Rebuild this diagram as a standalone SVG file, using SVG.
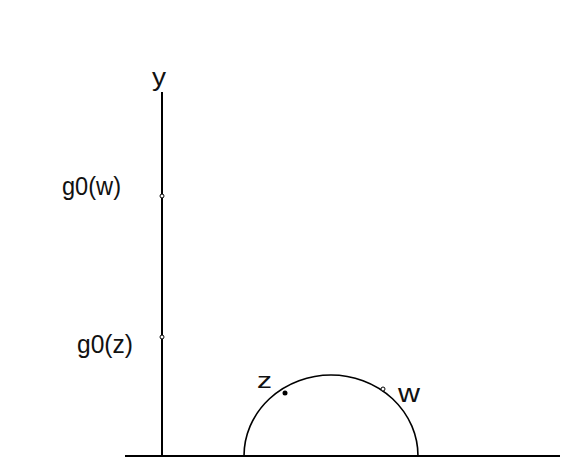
<svg xmlns="http://www.w3.org/2000/svg" width="565" height="465" viewBox="0 0 565 465">
<style>
.ax{stroke:#000;stroke-width:2;fill:none}
.arc{stroke:#000;stroke-width:1.6;fill:none}
.lbl{font-family:"Liberation Sans",Arial,sans-serif;font-size:26px;fill:#111}
.pt{stroke:#000;stroke-width:1;fill:#fff}
</style>
<rect width="565" height="465" fill="#fff"/>
<g id="connectors">
<line class="ax" x1="162" y1="92" x2="162" y2="456"/>
<line class="ax" x1="125" y1="456" x2="560" y2="456"/>
<path class="arc" d="M244,456 A87,81 0 0 1 418,456"/>
</g>
<g id="y-label"><text class="lbl" x="152" y="86" textLength="14" lengthAdjust="spacingAndGlyphs">y</text></g>
<g id="g0w"><circle class="pt" cx="162" cy="196" r="2"/><text class="lbl" x="62" y="195" textLength="59" lengthAdjust="spacingAndGlyphs">g0(w)</text></g>
<g id="g0z"><circle class="pt" cx="162" cy="337" r="2"/><text class="lbl" x="77" y="353" textLength="56" lengthAdjust="spacingAndGlyphs">g0(z)</text></g>
<g id="z"><circle cx="285" cy="393" r="2.5" fill="#000"/><text class="lbl" x="257" y="388" textLength="15" lengthAdjust="spacingAndGlyphs" style="font-size:22px">z</text></g>
<g id="w"><circle class="pt" cx="383" cy="389" r="2"/><text class="lbl" x="398" y="402" textLength="22" lengthAdjust="spacingAndGlyphs">w</text></g>
</svg>
